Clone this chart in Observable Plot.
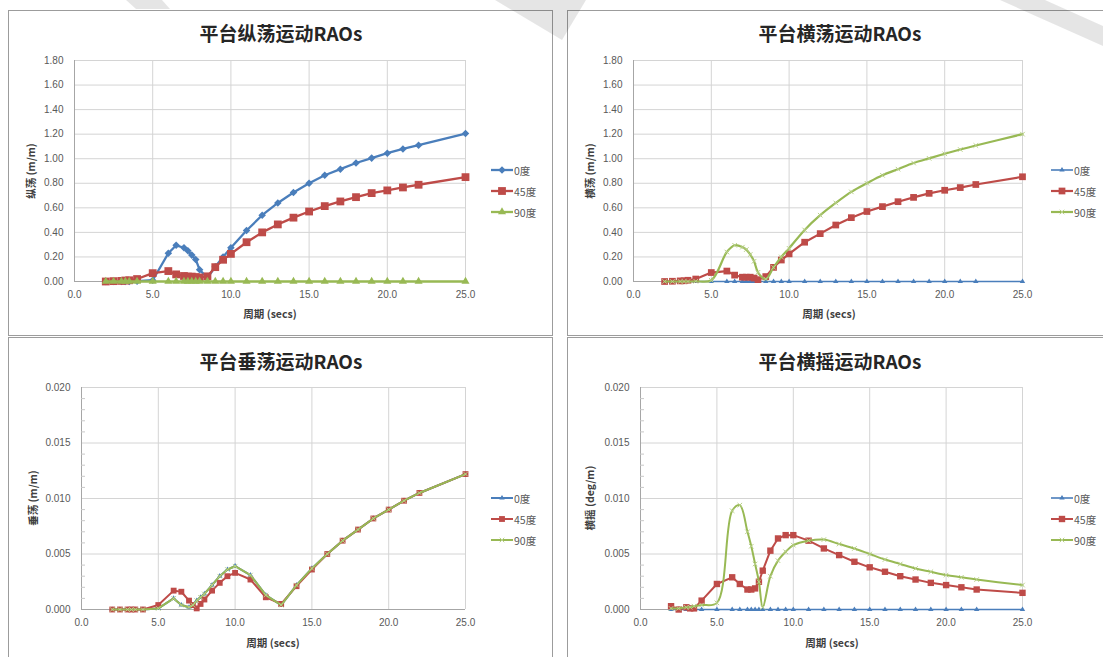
<!DOCTYPE html>
<html lang="zh">
<head>
<meta charset="utf-8">
<script src="https://cdn.jsdelivr.net/npm/d3@7"></script>
<script src="https://cdn.jsdelivr.net/npm/@observablehq/plot@0.6"></script>
<style>
  html, body { margin: 0; padding: 0; background: #fff; }
  #page { position: relative; width: 1103px; height: 657px; overflow: hidden; background: #fff; }
  .frame { position: absolute; border: 1px solid #9c9c9c; box-sizing: border-box; background: #fff; }
  .chart { position: absolute; }
  .chart svg { display: block; overflow: visible; }
  .title { position: absolute; transform: translate(-50%, -50%); font: bold 19px "Noto Sans CJK SC", sans-serif; color: #262626; white-space: nowrap; }
  .xlabel, .ylabel { position: absolute; font: bold 10.5px "Noto Sans CJK SC", sans-serif; color: #404040; white-space: nowrap; }
  .xlabel { transform: translate(-50%, -50%); }
  .ylabel { transform: translate(-50%, -50%) rotate(-90deg); }
  .legend { position: absolute; font: 10.5px "Noto Sans CJK SC", sans-serif; color: #595959; }
  .legend .row { display: flex; align-items: center; height: 21px; }
  .legend svg { display: block; margin-right: 1px; }
  .wm { position: absolute; left: 0; top: 0; pointer-events: none; }
</style>
</head>
<body>
<div id="page"></div>
<script>
// Wave periods (s) at which the RAOs were evaluated
const periods = [2, 2.5, 3, 3.25, 3.5, 4, 5, 6, 6.5, 7, 7.25, 7.5, 7.75, 8, 8.5, 9, 9.5, 10, 11, 12, 13, 14, 15, 16, 17, 18, 19, 20, 21, 22, 25];
const headings = ["0度", "45度", "90度"];

const periodTicks = [0, 5, 10, 15, 20, 25];
const translationTicks = [0, 0.2, 0.4, 0.6, 0.8, 1.0, 1.2, 1.4, 1.6, 1.8];
const smallTicks = [0, 0.005, 0.010, 0.015, 0.020];
const smallMinorTicks = [0.001, 0.002, 0.003, 0.004, 0.006, 0.007, 0.008, 0.009, 0.011, 0.012, 0.013, 0.014, 0.016, 0.017, 0.018, 0.019];

// Surge (纵荡) RAO, m/m
const surge0  = [0, 0, 0, 0, 0, 0.003, 0.01, 0.23, 0.295, 0.275, 0.25, 0.215, 0.18, 0.095, 0.03, 0.12, 0.2, 0.275, 0.415, 0.54, 0.64, 0.725, 0.8, 0.865, 0.915, 0.965, 1.005, 1.045, 1.08, 1.11, 1.205];
const surge45 = [0, 0.003, 0.005, 0.008, 0.01, 0.02, 0.068, 0.085, 0.058, 0.045, 0.04, 0.04, 0.036, 0.033, 0.042, 0.117, 0.177, 0.225, 0.32, 0.40, 0.465, 0.52, 0.57, 0.614, 0.652, 0.687, 0.72, 0.742, 0.766, 0.788, 0.85];
const surge90 = [0, 0, 0, 0, 0, 0, 0, 0, 0, 0, 0, 0, 0, 0, 0, 0, 0, 0, 0, 0, 0, 0, 0, 0, 0, 0, 0, 0, 0, 0, 0];

// Sway (横荡) RAO, m/m
const sway0  = [0, 0, 0, 0, 0, 0, 0, 0, 0, 0, 0, 0, 0, 0, 0, 0, 0, 0, 0, 0, 0, 0, 0, 0, 0, 0, 0, 0, 0, 0, 0];
const sway45 = [0, 0.002, 0.005, 0.006, 0.01, 0.02, 0.073, 0.085, 0.052, 0.035, 0.035, 0.035, 0.028, 0.015, 0.04, 0.115, 0.175, 0.225, 0.32, 0.39, 0.46, 0.52, 0.57, 0.61, 0.65, 0.685, 0.718, 0.743, 0.765, 0.79, 0.853];
const sway90 = [0, 0, 0, 0, 0, 0.002, 0.01, 0.24, 0.295, 0.28, 0.26, 0.22, 0.165, 0.075, 0.02, 0.115, 0.2, 0.27, 0.42, 0.54, 0.64, 0.73, 0.8, 0.865, 0.915, 0.965, 1.003, 1.04, 1.075, 1.108, 1.2];

// Heave (垂荡) RAO, m/m
const heave0  = [0, 0, 0, 0, 0, 0, 0.0001, 0.001, 0.0004, 0.0002, 0.0004, 0.0008, 0.0011, 0.0014, 0.0022, 0.003, 0.0036, 0.0039, 0.0031, 0.0013, 0.0004, 0.0022, 0.0037, 0.005, 0.0062, 0.0072, 0.0082, 0.009, 0.0098, 0.0105, 0.0122];
const heave45 = [0, 0, 0, 0, 0, 0, 0.0004, 0.0017, 0.0016, 0.0008, 0.0004, 0.0001, 0.0005, 0.0009, 0.0017, 0.0024, 0.003, 0.0033, 0.0027, 0.0011, 0.0005, 0.0021, 0.0036, 0.005, 0.0062, 0.0072, 0.0082, 0.009, 0.0098, 0.0105, 0.0122];
const heave90 = [0, 0, 0, 0, 0, 0, 0.0001, 0.001, 0.0004, 0.0002, 0.0004, 0.0008, 0.0011, 0.0014, 0.0022, 0.003, 0.0036, 0.0039, 0.0031, 0.0013, 0.0004, 0.0022, 0.0037, 0.005, 0.0062, 0.0072, 0.0082, 0.009, 0.0098, 0.0105, 0.0122];

// Roll (横摇) RAO, deg/m
const roll0  = [0, 0, 0, 0, 0, 0, 0, 0, 0, 0, 0, 0, 0, 0, 0, 0, 0, 0, 0, 0, 0, 0, 0, 0, 0, 0, 0, 0, 0, 0, 0];
const roll45 = [0.0003, 0, 0.0002, 0.0001, 0.0001, 0.0008, 0.0023, 0.0029, 0.0023, 0.0018, 0.0018, 0.0019, 0.0025, 0.0035, 0.0053, 0.0064, 0.0067, 0.0067, 0.0062, 0.0055, 0.0049, 0.0043, 0.0038, 0.0034, 0.003, 0.0027, 0.0024, 0.0022, 0.002, 0.0018, 0.0015];
const roll90 = [0.0001, 0.0001, 0.0002, 0.0002, 0.0003, 0.0004, 0.0006, 0.0089, 0.0094, 0.007, 0.0057, 0.0041, 0.0025, 0.0002, 0.003, 0.0044, 0.0052, 0.0058, 0.0062, 0.0063, 0.0059, 0.0055, 0.005, 0.0045, 0.0041, 0.0037, 0.0034, 0.0031, 0.0029, 0.0027, 0.0022];

const titles = ["平台纵荡运动RAOs", "平台横荡运动RAOs", "平台垂荡运动RAOs", "平台横摇运动RAOs"];
const yLabels = ["纵荡 (m/m)", "横荡 (m/m)", "垂荡 (m/m)", "横摇 (deg/m)"];
const xLabel = "周期 (secs)";

// ---- styling ----
const BLUE = "#4a7ebb", RED = "#be4b48", GREEN = "#98b954";

const styleSets = [
  [ {color: BLUE, width: 2.3, symbol: "diamond2", r: 3.4, curve: "linear"},
    {color: RED, width: 2.3, symbol: "square", r: 4.4, curve: "linear"},
    {color: GREEN, width: 2.3, symbol: "triangle", r: 3.0, curve: "linear"} ],
  [ {color: BLUE, width: 1.6, symbol: "triangle", r: 2.0, curve: "linear"},
    {color: RED, width: 2.2, symbol: "square", r: 3.8, curve: "linear"},
    {color: GREEN, width: 2.2, symbol: "times", r: 2.2, curve: "catmull-rom", stroke: "#b9d08a"} ],
  [ {color: BLUE, width: 2.0, symbol: "triangle", r: 2.0, curve: "linear"},
    {color: RED, width: 2.0, symbol: "square", r: 3.3, curve: "linear"},
    {color: GREEN, width: 2.0, symbol: "times", r: 2.2, curve: "linear", stroke: "#b9d08a"} ],
  [ {color: BLUE, width: 1.6, symbol: "triangle", r: 2.0, curve: "linear"},
    {color: RED, width: 2.0, symbol: "square", r: 3.6, curve: "linear"},
    {color: GREEN, width: 2.0, symbol: "times", r: 2.2, curve: "catmull-rom", stroke: "#b9d08a"} ]
];

const layouts = [
  {box: [8, 10, 545, 326], svg: [8, 10, 545, 326], m: [50, 88, 55, 66], title: [281, 32], xl: [270, 313], yl: [30, 171], legend: [491, 159.5]},
  {box: [567, 10, 545, 326], svg: [567, 10, 536, 326], m: [50, 81, 55, 66], title: [840, 32], xl: [829, 313], yl: [589, 171], legend: [1051, 159.5]},
  {box: [8, 337, 545, 330], svg: [8, 337, 545, 320], m: [50, 88, 48, 73], title: [281, 360], xl: [273, 642], yl: [32, 498], legend: [491, 487.5]},
  {box: [567, 337, 545, 330], svg: [567, 337, 536, 320], m: [50, 81, 48, 73], title: [840, 360], xl: [832, 642], yl: [589, 498], legend: [1051, 487.5]}
];

const seriesSets = [
  [surge0, surge45, surge90],
  [sway0, sway45, sway90],
  [heave0, heave45, heave90],
  [roll0, roll45, roll90]
];
const yConfigs = [
  {max: 1.8, ticks: translationTicks, fmt: d3.format(".2f"), minor: null},
  {max: 1.8, ticks: translationTicks, fmt: d3.format(".2f"), minor: null},
  {max: 0.02, ticks: smallTicks, fmt: d3.format(".3f"), minor: smallMinorTicks},
  {max: 0.02, ticks: smallTicks, fmt: d3.format(".3f"), minor: smallMinorTicks}
];

const page = document.getElementById("page");

function addDiv(cls, x, y, text) {
  const el = document.createElement("div");
  el.className = cls;
  el.style.left = x + "px";
  el.style.top = y + "px";
  if (text != null) el.textContent = text;
  page.appendChild(el);
  return el;
}

function legendSwatch(st) {
  const w = 22, h = 12;
  const svg = d3.create("svg").attr("width", w).attr("height", h);
  svg.append("line").attr("x1", 0).attr("x2", w).attr("y1", h / 2).attr("y2", h / 2)
    .attr("stroke", st.color).attr("stroke-width", st.width);
  const types = {diamond2: d3.symbolDiamond2, square: d3.symbolSquare, triangle: d3.symbolTriangle, times: d3.symbolTimes};
  const path = d3.symbol(types[st.symbol], Math.PI * st.r * st.r)();
  const p = svg.append("path").attr("d", path).attr("transform", `translate(${w / 2},${h / 2})`);
  if (st.symbol === "times") p.attr("fill", "none").attr("stroke", st.stroke).attr("stroke-width", 1);
  else p.attr("fill", st.color);
  return svg.node();
}

layouts.forEach((L, i) => {
  const [bx, by, bw, bh] = L.box;
  const frame = addDiv("frame", bx, by);
  frame.style.width = bw + "px";
  frame.style.height = bh + "px";

  const [sx, sy, sw, sh] = L.svg;
  const [mT, mR, mB, mL] = L.m;
  const yc = yConfigs[i];
  const styles = styleSets[i];
  const plotW = sw - mL - mR;

  const rows = [];
  seriesSets[i].forEach((vals, k) => vals.forEach((v, j) => rows.push({period: periods[j], value: v, heading: headings[k]})));

  const marks = [
    Plot.gridX(periodTicks, {stroke: "#d4d4d4", strokeOpacity: 1, strokeWidth: 1}),
    Plot.gridY(yc.ticks, {stroke: "#d4d4d4", strokeOpacity: 1, strokeWidth: 1}),
    Plot.ruleX([0], {stroke: "#a6a6a6", strokeWidth: 1}),
    Plot.ruleY([0], {stroke: "#a6a6a6", strokeWidth: 1}),
    Plot.axisX({ticks: periodTicks, tickSize: 0, tickPadding: 9, tickFormat: d3.format(".1f"), label: null, fill: "#595959"}),
    Plot.axisY({ticks: yc.ticks, tickSize: 0, tickPadding: 11, tickFormat: yc.fmt, label: null, fill: "#595959"})
  ];
  if (yc.minor) {
    marks.push(Plot.tickY(yc.minor, {y: d => d, insetRight: plotW - 4, stroke: "#c8c8c8", strokeWidth: 1}));
  }
  headings.forEach((h, k) => {
    const st = styles[k];
    const data = rows.filter(d => d.heading === h);
    marks.push(Plot.line(data, {x: "period", y: "value", stroke: st.color, strokeWidth: st.width, curve: st.curve, strokeLinejoin: "round"}));
    if (st.symbol === "times") {
      marks.push(Plot.dot(data, {x: "period", y: "value", symbol: "times", r: st.r, stroke: st.stroke, strokeWidth: 1}));
    } else {
      marks.push(Plot.dot(data, {x: "period", y: "value", symbol: st.symbol, r: st.r, fill: st.color, stroke: "none"}));
    }
  });

  const chart = Plot.plot({
    width: sw, height: sh,
    marginTop: mT, marginRight: mR, marginBottom: mB, marginLeft: mL,
    style: {fontFamily: "'Liberation Sans', Arial, sans-serif", fontSize: "10px", background: "transparent", color: "#595959", overflow: "visible"},
    x: {domain: [0, 25]},
    y: {domain: [0, yc.max]},
    marks
  });
  const holder = addDiv("chart", sx, sy);
  holder.appendChild(chart);

  addDiv("title", L.title[0], L.title[1], titles[i]);
  addDiv("xlabel", L.xl[0], L.xl[1], xLabel);
  addDiv("ylabel", L.yl[0], L.yl[1], yLabels[i]);

  const legend = addDiv("legend", L.legend[0], L.legend[1]);
  headings.forEach((h, k) => {
    const row = document.createElement("div");
    row.className = "row";
    row.appendChild(legendSwatch(styles[k]));
    const span = document.createElement("span");
    span.textContent = h;
    row.appendChild(span);
    legend.appendChild(row);
  });
});

// faint chevron watermark across the top edge
const wm = d3.select(page).append("svg").attr("class", "wm").attr("width", 1103).attr("height", 657);
const wmShapes = [
  [[126, 0], [162, 0], [170, 9], [136, 9]],
  [[495, 0], [586, 0], [562, 40]],
  [[1000, 0], [1045, 0], [1103, 26], [1103, 46]]
];
wm.selectAll("polygon").data(wmShapes).join("polygon")
  .attr("points", d => d.map(p => p.join(",")).join(" "))
  .attr("fill", "#000").attr("fill-opacity", 0.1);
</script>
</body>
</html>
